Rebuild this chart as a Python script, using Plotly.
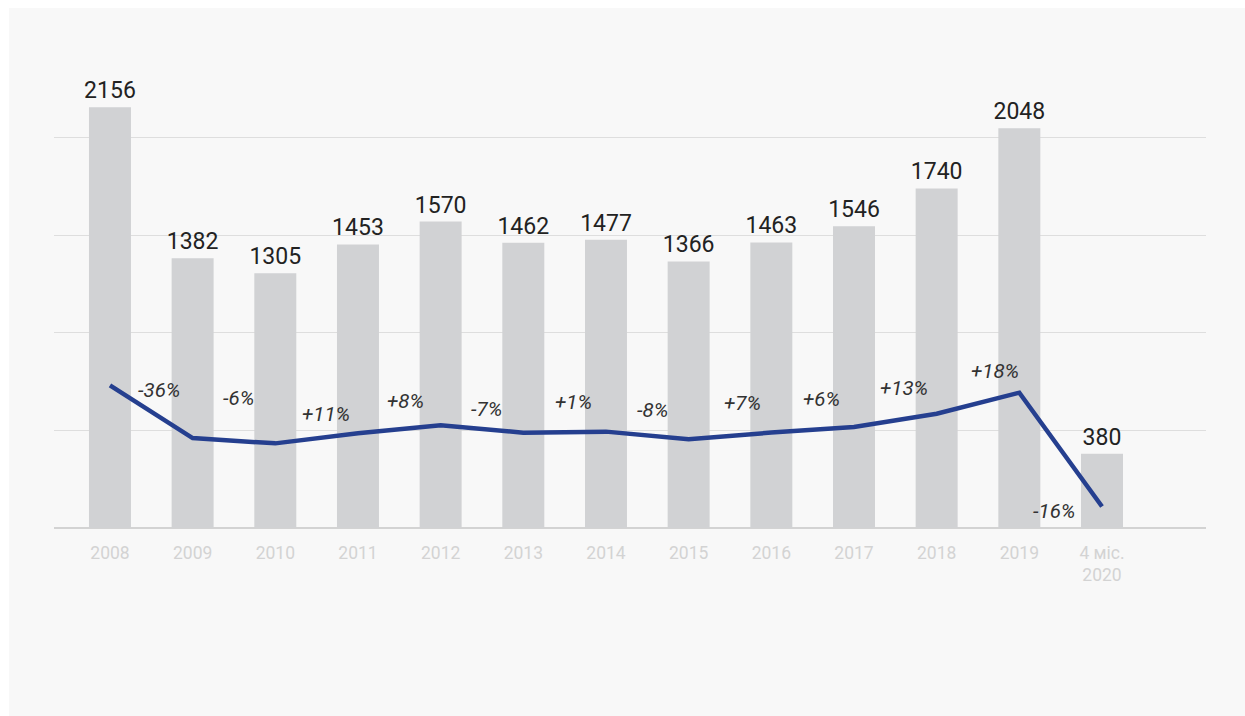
import plotly.graph_objects as go

# ---- data ----
categories = ["2008", "2009", "2010", "2011", "2012", "2013", "2014",
              "2015", "2016", "2017", "2018", "2019", "4 міс.<br>2020"]
bar_values = [2156, 1382, 1305, 1453, 1570, 1462, 1477, 1366, 1463, 1546, 1740, 2048, 380]
change_labels = ["-36%", "-6%", "+11%", "+8%", "-7%", "+1%", "-8%",
                 "+7%", "+6%", "+13%", "+18%", "-16%"]

# ---- styles ----
BAR_COLOR = "#d1d2d4"
LINE_COLOR = "#253f8f"
PANEL = "#f8f8f8"
label_xshift = [8, 5, 9, 6, 5, 9, 5, 13, 9, 9, 17, -7]
label_yshift = [22, 43, 24, 28, 20, 30, 25, 33, 31, 32, 32, -61]

fig = go.Figure()

fig.add_trace(go.Bar(
    x=categories, y=bar_values,
    marker=dict(color=BAR_COLOR, line=dict(width=0)),
    width=0.508,
    text=[str(v) for v in bar_values],
    textposition="outside",
    constraintext="none",
    textangle=0,
    textfont=dict(family="Roboto", size=23, color="#222222"),
    cliponaxis=False,
    hoverinfo="skip",
))

fig.add_trace(go.Scatter(
    x=categories, y=bar_values,
    yaxis="y2",
    mode="lines",
    line=dict(color=LINE_COLOR, width=4.5),
    hoverinfo="skip",
))

for i, lab in enumerate(change_labels):
    mid = (bar_values[i] + bar_values[i + 1]) / 2
    fig.add_annotation(
        x=i + 0.5, y=mid, xref="x", yref="y2",
        text=lab, showarrow=False,
        xshift=label_xshift[i], yshift=label_yshift[i],
        font=dict(family="Roboto", size=20.5, color="#333333", style="italic"),
    )

fig.update_layout(
    width=1236, height=708,
    margin=dict(l=45, r=39, t=34, b=188),
    paper_bgcolor=PANEL,
    plot_bgcolor=PANEL,
    showlegend=False,
    font=dict(family="Roboto"),
    xaxis=dict(
        type="category",
        range=[-0.677, 13.258],
        showgrid=False, showline=False, zeroline=False,
        ticks="", ticklabelstandoff=12,
        tickfont=dict(family="Roboto", size=17.5, color="#d3d3d3"),
    ),
    yaxis=dict(
        range=[0, 2490], dtick=500,
        showgrid=True, gridcolor="#dedede", gridwidth=1,
        zeroline=True, zerolinecolor="#d3d3d3", zerolinewidth=2,
        showticklabels=False, ticks="", showline=False,
    ),
    yaxis2=dict(
        range=[64, 7190], overlaying="y", side="right",
        showgrid=False, zeroline=False, showticklabels=False, ticks="",
        showline=False,
    ),
)

fig.write_html("out.html", post_script="document.body.style.margin='8px 0 0 9px';")
